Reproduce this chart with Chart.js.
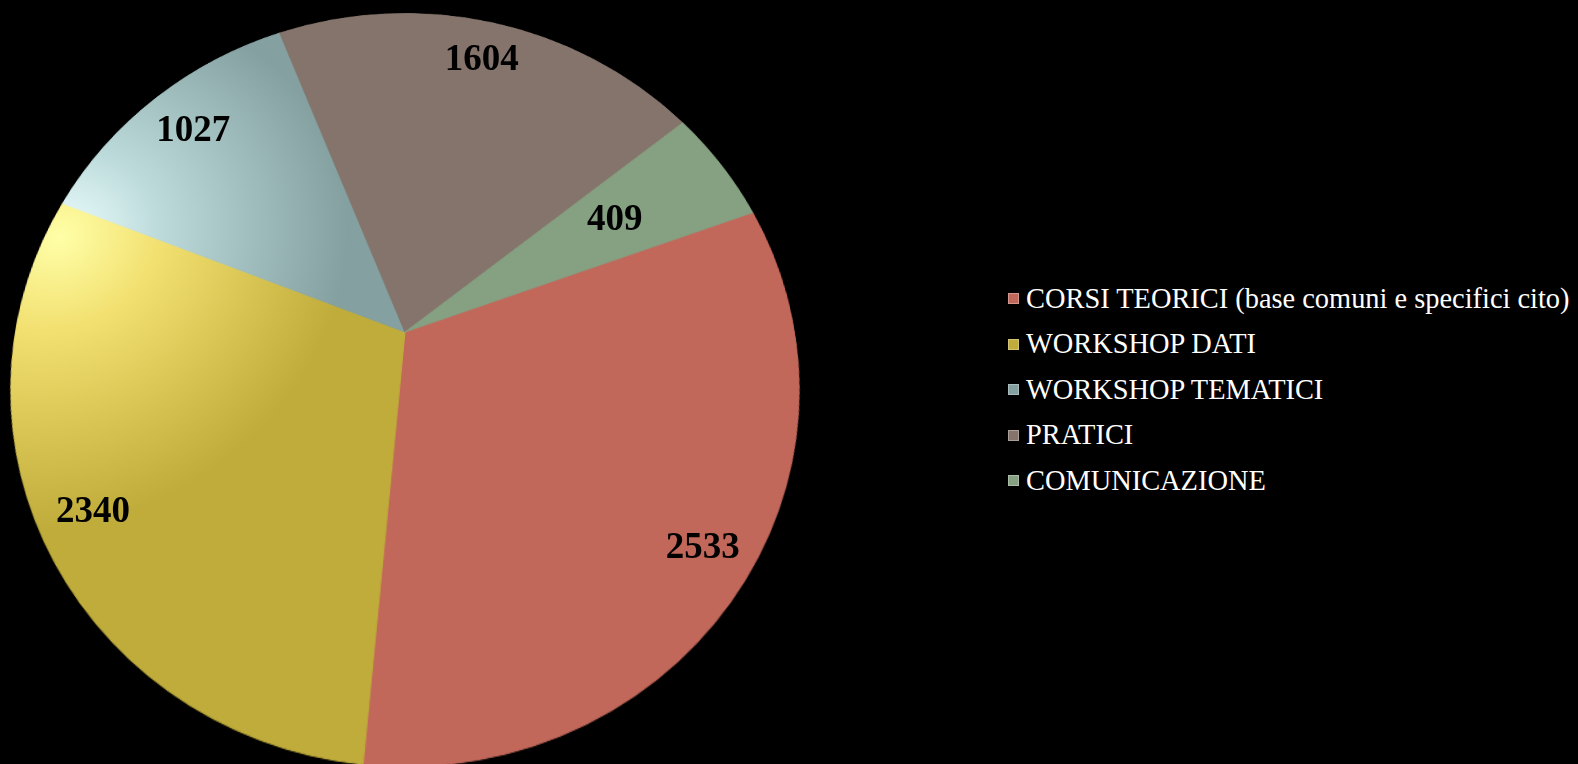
<!DOCTYPE html>
<html>
<head>
<meta charset="utf-8">
<title>Ore di formazione</title>
<script src="https://cdn.jsdelivr.net/npm/chart.js@4.4.0/dist/chart.umd.min.js"></script>
<style>
  html, body { margin: 0; padding: 0; background: #000; width: 1578px; height: 764px; overflow: hidden; }
  /* pie is drawn flat, then tilted back so it reads like a 3D pie */
  #pie-wrap {
    position: absolute; left: 15px; top: -58px; width: 780px; height: 780px;
    transform-origin: 390px 390px;
    transform: perspective(837px) rotateX(19.3deg);
  }
  /* value labels sit on an untilted layer over the pie */
  #label-layer { position: absolute; left: 15px; top: -58px; }
  #legend {
    position: absolute; left: 1008px; top: 276px;
    font-family: "Liberation Serif", "Times New Roman", serif; font-size: 28.4px; color: #fff;
  }
  .legend-row { height: 45.5px; display: flex; align-items: center; white-space: nowrap; }
  .legend-box {
    width: 11px; height: 11px; margin-right: 7px; box-sizing: border-box;
    border: 1px solid rgba(255, 255, 255, 0.3);
  }
</style>
</head>
<body>
<div id="pie-wrap"><canvas id="chart-ore" width="780" height="780"></canvas></div>
<canvas id="label-layer" width="780" height="780"></canvas>
<div id="legend"></div>

<script>
// --- data ---
const categories = [
  'CORSI TEORICI (base comuni e specifici cito)',
  'WORKSHOP DATI',
  'WORKSHOP TEMATICI',
  'PRATICI',
  'COMUNICAZIONE'
];
const ore = [2533, 2340, 1027, 1604, 409];

// --- styling ---
const sliceColors = ['#C2685A', '#C0AC3A', '#84A0A0', '#84746C', '#86A082'];
// slices lit from the upper left get a soft highlight
const highlightStops = {
  1: ['#FFFFA8', '#F2E070', '#C0AC3A'],
  2: ['#EEFFFF', '#BCDADA', '#84A0A0']
};
const labelRadius = [0.885, 0.874, 0.84, 0.864, 0.648];
const TILT = 19.3 * Math.PI / 180;
const PERSPECTIVE = 837;

function sliceFill(ctx) {
  const i = ctx.dataIndex;
  const stops = highlightStops[i];
  if (!stops) return sliceColors[i];
  const c = ctx.chart.ctx;
  const area = ctx.chart.chartArea;
  if (!area) return sliceColors[i];
  const gx = area.left + 30, gy = area.top + 285;
  const g = c.createRadialGradient(gx, gy, 0, gx, gy, 300);
  g.addColorStop(0, stops[0]);
  g.addColorStop(0.35, stops[1]);
  g.addColorStop(1, stops[2]);
  return g;
}

// project a point of the flat pie through the same tilt the CSS applies
function project(cx, cy, x, y) {
  const dx = x - cx, up = cy - y;
  const k = PERSPECTIVE / (PERSPECTIVE + up * Math.sin(TILT));
  return { x: cx + dx * k, y: cy - up * Math.cos(TILT) * k };
}

// value labels drawn upright on the overlay, at the projected slice positions
const valueLabels = {
  id: 'valueLabels',
  afterDatasetsDraw(chart) {
    const layer = document.getElementById('label-layer').getContext('2d');
    layer.clearRect(0, 0, 780, 780);
    layer.font = 'bold 37px "Liberation Serif", serif';
    layer.fillStyle = '#000';
    layer.textAlign = 'center';
    layer.textBaseline = 'middle';
    const values = chart.data.datasets[0].data;
    chart.getDatasetMeta(0).data.forEach((arc, i) => {
      const mid = (arc.startAngle + arc.endAngle) / 2;
      const r = arc.outerRadius * labelRadius[i];
      const p = project(arc.x, arc.y, arc.x + Math.cos(mid) * r, arc.y + Math.sin(mid) * r);
      layer.fillText(String(values[i]), p.x, p.y);
    });
  }
};

new Chart(document.getElementById('chart-ore').getContext('2d'), {
  type: 'pie',
  data: {
    labels: categories,
    datasets: [{
      data: ore,
      backgroundColor: sliceFill,
      borderColor: sliceFill,
      borderWidth: 1
    }]
  },
  options: {
    responsive: false,
    devicePixelRatio: 1,
    animation: false,
    rotation: 70,
    layout: { padding: 0 },
    plugins: { legend: { display: false }, tooltip: { enabled: false } }
  },
  plugins: [valueLabels]
});

// legend
const legendEl = document.getElementById('legend');
legendEl.innerHTML = categories.map((label, i) =>
  `<div class="legend-row"><span class="legend-box" style="background:${sliceColors[i]}"></span>${label}</div>`
).join('');
</script>
</body>
</html>
